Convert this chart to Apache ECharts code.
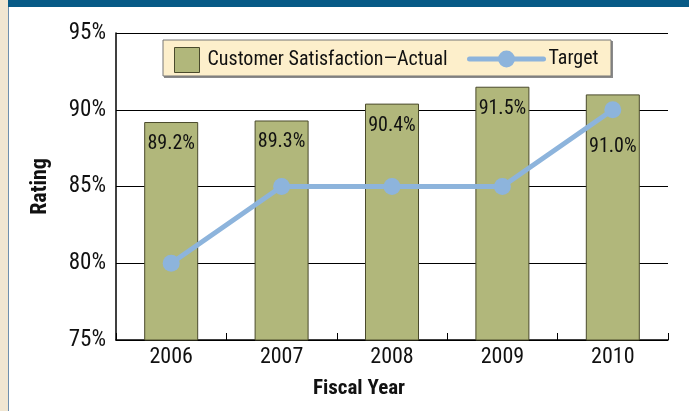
<!DOCTYPE html>
<html>
<head>
<meta charset="utf-8">
<script src="https://cdn.jsdelivr.net/npm/echarts@6/dist/echarts.min.js"></script>
<style>
  html, body { margin: 0; padding: 0; background: #fff; }
  #chart { width: 689px; height: 411px; }
</style>
</head>
<body>
<div id="chart"></div>
<script>
// Fiscal years and ratings (percent)
const years = ['2006', '2007', '2008', '2009', '2010'];
const actual = [89.2, 89.3, 90.4, 91.5, 91.0];
const target = [80, 85, 85, 85, 90];
const yTicks = { min: 75, max: 95, step: 5 };

const FONT = "'Roboto Condensed', 'Liberation Sans Narrow', 'Liberation Sans', sans-serif";

// value labels sit near the bar top; the last one is pushed down clear of the target marker
const barData = actual.map((v, i) => (
  i === actual.length - 1 ? { value: v, label: { distance: 43 } } : v
));

const chart = echarts.init(document.getElementById('chart'), null, { renderer: 'canvas' });

chart.setOption({
  backgroundColor: '#ffffff',
  animation: false,
  textStyle: { fontFamily: FONT, color: '#111' },
  graphic: [
    // page frame: cream margin strip, its rule and the blue header band
    { type: 'rect', shape: { x: 0, y: 0, width: 8, height: 411 }, style: { fill: '#f0e6d2' }, z: -10 },
    { type: 'line', shape: { x1: 8.5, y1: 0, x2: 8.5, y2: 411 }, style: { stroke: '#6f8fae', lineWidth: 1 }, z: -9 },
    { type: 'rect', shape: { x: 8, y: 0, width: 681, height: 7 }, style: { fill: '#075a86' }, z: -9 },
    // legend panel
    { type: 'rect', shape: { x: 164, y: 41, width: 449, height: 37 }, style: { fill: '#8a8a8a' }, z: 5 },
    { type: 'rect', shape: { x: 163, y: 40, width: 448, height: 36 }, style: { fill: '#fdefcb', stroke: '#777', lineWidth: 1 }, z: 6 }
  ],
  grid: { left: 116, right: 21, top: 33, bottom: 71, containLabel: false },
  legend: [
    {
      data: ['Customer Satisfaction—Actual'],
      icon: 'rect',
      left: 174, top: 47, padding: 0,
      itemWidth: 25, itemHeight: 25,
      itemStyle: { borderColor: '#4a4a2c', borderWidth: 1 },
      textStyle: { fontFamily: FONT, fontSize: 20, color: '#111', padding: [0, 0, 0, 3] },
      z: 10
    },
    {
      data: ['Target'],
      left: 467, top: 49, padding: 0,
      itemWidth: 74, itemHeight: 21,
      lineStyle: { width: 5, cap: 'round' },
      textStyle: { fontFamily: FONT, fontSize: 20, color: '#111' },
      z: 10
    }
  ],
  xAxis: {
    type: 'category',
    data: years,
    boundaryGap: true,
    name: 'Fiscal Year',
    nameLocation: 'middle',
    nameGap: 38,
    nameTextStyle: { fontFamily: FONT, fontSize: 21, fontWeight: 'bold', color: '#111', padding: [0, 66, 0, 0] },
    axisLine: { lineStyle: { color: '#000', width: 1.5 } },
    axisTick: { show: true, inside: true, length: 7, lineStyle: { color: '#000', width: 1 } },
    axisLabel: { fontFamily: FONT, fontSize: 22, color: '#111', margin: 6 },
    splitLine: { show: false }
  },
  yAxis: {
    type: 'value',
    min: yTicks.min, max: yTicks.max, interval: yTicks.step,
    name: 'Rating',
    nameLocation: 'middle',
    nameRotate: 90,
    nameGap: 65,
    nameTextStyle: { fontFamily: FONT, fontSize: 22, fontWeight: 'bold', color: '#111' },
    axisLine: { show: true, lineStyle: { color: '#000', width: 1.5 } },
    axisTick: { show: false },
    axisLabel: { fontFamily: FONT, fontSize: 23, color: '#111', margin: 10, formatter: v => v + '%' },
    splitLine: { show: true, lineStyle: { color: '#000', width: 1 } }
  },
  series: [
    {
      name: 'Customer Satisfaction—Actual',
      type: 'bar',
      data: barData,
      barWidth: 54,
      itemStyle: { color: '#b1b77b', borderColor: '#4a4a2c', borderWidth: 1 },
      label: {
        show: true,
        position: 'insideTop',
        distance: 12,
        fontFamily: FONT,
        fontSize: 20,
        color: '#111',
        formatter: p => p.value.toFixed(1) + '%'
      },
      z: 2
    },
    {
      name: 'Target',
      type: 'line',
      data: target,
      symbol: 'circle',
      symbolSize: 17,
      lineStyle: { color: '#8db4dc', width: 5 },
      itemStyle: { color: '#8db4dc' },
      z: 3
    }
  ]
});
</script>
</body>
</html>
